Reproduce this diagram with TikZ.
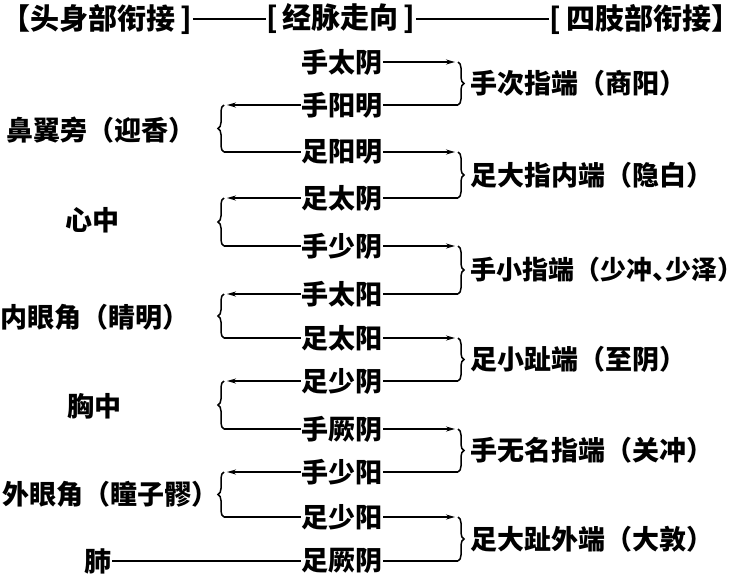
\documentclass[tikz,border=0pt]{standalone}
\usepackage{fontspec}
\setmainfont{Noto Sans CJK SC}
\usetikzlibrary{arrows.meta,decorations.pathreplacing,calc}
\newcommand{\halfdun}{{\addfontfeatures{RawFeature=+halt}、}}
\begin{document}
\begin{tikzpicture}[x=1pt,y=-1pt,
  txt/.style={font=\bfseries\fontsize{27}{30}\selectfont, inner sep=0.5pt},
  hdr/.style={font=\bfseries\fontsize{29}{32}\selectfont, inner sep=0.5pt},
  ln/.style={line width=1.5pt},
  arr/.style={line width=1.5pt,-{Stealth[length=9pt,width=5pt]},shorten >=3pt},
  brc/.style={line width=1.5pt, decorate, decoration={brace, amplitude=6pt}}]
\useasboundingbox (0,0) rectangle (749,581);
% header
\node[hdr,anchor=west] (h1) at (1,19) {【头身部衔接\,]};
\node[hdr] (h2) at (341,19) {[\,经脉走向\,]};
\node[hdr,anchor=east] (h3) at (741,19) {[\,四肢部衔接】};
\draw[ln] (h1.east) -- (h2.west);
\draw[ln] (h2.east) -- (h3.west);
% meridians
\foreach \n/\y/\t in {1/62/手太阴,2/105/手阳明,3/152/足阳明,4/198/足太阴,5/246/手少阴,6/294/手太阳,7/338/足太阳,8/381/足少阴,9/429/手厥阴,10/472/手少阳,11/517/足少阳,12/561/足厥阴}
  \node[txt] (m\n) at (342,\y) {\t};
% limb ends
\foreach \a/\b/\t [count=\i] in {1/2/手次指端（商阳）,3/4/足大指内端（隐白）,5/6/{\fontsize{26}{30}\selectfont 手小指端（少冲\halfdun 少泽）},7/8/足小趾端（至阴）,9/10/手无名指端（关冲）,11/12/足大趾外端（大敦）}{
  \coordinate (rt\i) at (458,0 |- m\a);
  \coordinate (rb\i) at (458,0 |- m\b);
  \draw[arr] (m\a.east) -- (rt\i);
  \draw[ln] (m\b.east) -- (rb\i);
  \draw[brc] (rt\i) -- (rb\i);
  \node[txt,anchor=west] (r\i) at ($(rt\i)!0.5!(rb\i)+(12,0)$) {\t};
}
% head ends
\foreach \a/\b/\x/\y/\t/\an [count=\i] in {2/3/101/130/鼻翼旁（迎香）/center,4/5/92/220/心中/center,6/7/95/317/内眼角（睛明）/center,8/9/94/406/胸中/center,10/11/2/494/外眼角（瞳子髎）/west}{
  \coordinate (lt\i) at (224,0 |- m\a);
  \coordinate (lb\i) at (224,0 |- m\b);
  \draw[arr] (m\a.west) -- (lt\i);
  \draw[ln] (lb\i) -- (m\b.west);
  \draw[brc] (lb\i) -- (lt\i);
  \node[txt,anchor=\an] (l\i) at (\x,\y) {\t};
}
\node[txt] (fei) at (98,561) {肺};
\draw[ln] (fei.east) -- (m12.west);
\end{tikzpicture}
\end{document}
